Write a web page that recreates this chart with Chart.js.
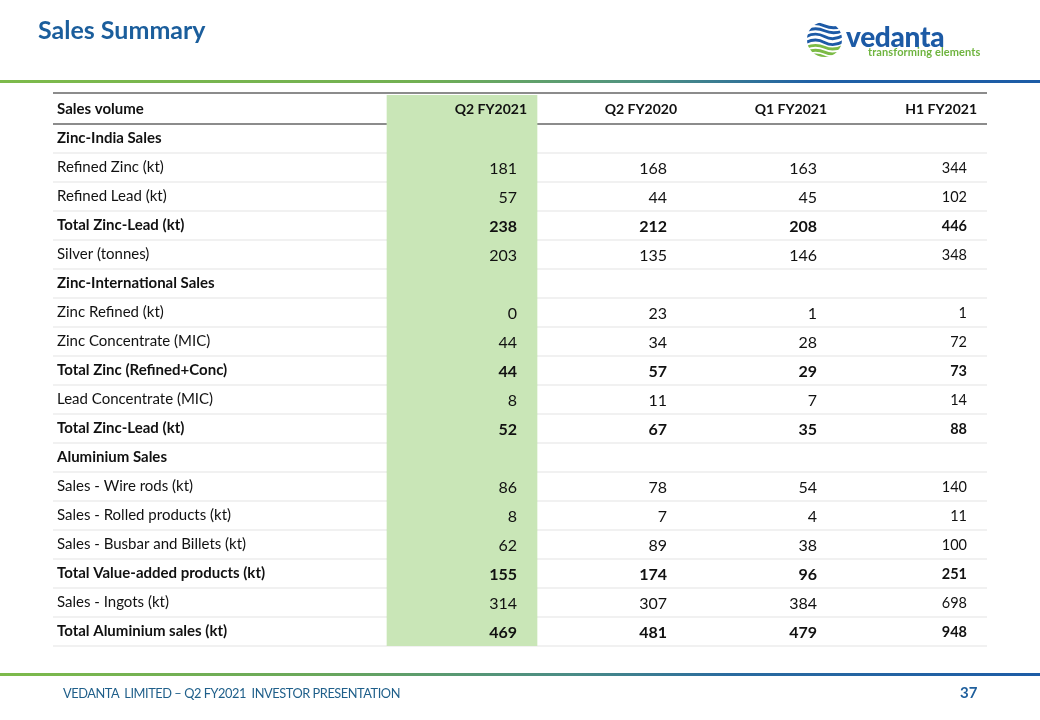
<!DOCTYPE html>
<html>
<head>
<meta charset="utf-8">
<script src="https://cdn.jsdelivr.net/npm/chart.js@4.4.0/dist/chart.umd.min.js"></script>
<style>
  body { margin: 0; background: #fff; font-family: Lato, "Open Sans", sans-serif; }
  #page { position: relative; width: 1040px; height: 720px; overflow: hidden; }
  #table-chart { position: absolute; left: 0; top: 0; }
  .title { position: absolute; left: 38px; top: 17px; line-height: 1; font-size: 25px; font-weight: bold; color: #1b5e9c; }
  .topline { position: absolute; left: 0; top: 80px; width: 1040px; height: 3px;
    background: linear-gradient(to right, #7dba4b 0%, #72b052 40%, #4f9282 62%, #1f60a6 78%, #1d5ca6 100%); }
  .bottomline { position: absolute; left: 0; top: 673px; width: 1040px; height: 3px;
    background: linear-gradient(to right, #7dba4b 0%, #6aa85a 30%, #4a8c86 55%, #2a6b9f 70%, #1d5ca6 100%); }
  .brand { position: absolute; left: 846px; top: 22px; line-height: 1; font-size: 28px; font-weight: 900; color: #1c5aa5; letter-spacing: -0.3px; }
  .tagline { position: absolute; left: 868px; top: 46px; line-height: 1; font-size: 11px; font-weight: bold; color: #6fb43f; letter-spacing: 0.1px; }
  .logo { position: absolute; left: 806px; top: 21px; }
  .footer { position: absolute; left: 63px; top: 687px; line-height: 1; font-size: 12.8px; letter-spacing: -0.45px; color: #1f5f8a; white-space: pre; }
  .pageno { position: absolute; left: 960px; top: 685px; line-height: 1; font-size: 15px; font-weight: bold; color: #1f5f9c; }
</style>
</head>
<body>
<div id="page">
  <canvas id="table-chart" width="1040" height="720"></canvas>
  <div class="title">Sales Summary</div>
  <svg class="logo" width="37" height="37" viewBox="0 0 38 38">
    <defs><clipPath id="c"><circle cx="19" cy="19" r="18"/></clipPath></defs>
    <g clip-path="url(#c)" fill="none" stroke-width="3">
      <path d="M0 4 Q10 1 19 5 T38 5" stroke="#1d5aa6"/>
      <path d="M0 10 Q10 6 19 10 T38 10" stroke="#1d5aa6"/>
      <path d="M0 16 Q10 11 19 16 T38 15" stroke="#1d5aa6"/>
      <path d="M0 22 Q10 17 19 22 T38 21" stroke="#1d5aa6"/>
      <path d="M0 27 Q10 23 19 27 T38 26" stroke="#7cbb46"/>
      <path d="M0 32 Q10 28 19 32 T38 31" stroke="#7cbb46"/>
      <path d="M0 37 Q10 33 19 37 T38 36" stroke="#7cbb46"/>
    </g>
  </svg>
  <div class="brand">vedanta</div>
  <div class="tagline">transforming elements</div>
  <div class="topline"></div>
  <div class="bottomline"></div>
  <div class="footer">VEDANTA  LIMITED – Q2 FY2021  INVESTOR PRESENTATION</div>
  <div class="pageno">37</div>
</div>
<script>
/* Table contents */
let headerLabel = 'Sales volume'
let columnLabels = ['Q2 FY2021', 'Q2 FY2020', 'Q1 FY2021', 'H1 FY2021']

let rowLabels = [
  'Zinc-India Sales',
  'Refined Zinc (kt)',
  'Refined Lead (kt)',
  'Total Zinc-Lead (kt)',
  'Silver (tonnes)',
  'Zinc-International Sales',
  'Zinc Refined (kt)',
  'Zinc Concentrate (MIC)',
  'Total Zinc (Refined+Conc)',
  'Lead Concentrate (MIC)',
  'Total Zinc-Lead (kt)',
  'Aluminium Sales',
  'Sales - Wire rods (kt)',
  'Sales - Rolled products (kt)',
  'Sales - Busbar and Billets (kt)',
  'Total Value-added products (kt)',
  'Sales - Ingots (kt)',
  'Total Aluminium sales (kt)'
]

// rows shown in bold (section titles and totals)
let boldRows = [0, 3, 5, 8, 10, 11, 15, 17]

let q2fy2021 = [null, 181, 57, 238, 203, null, 0, 44, 44, 8, 52, null, 86, 8, 62, 155, 314, 469]
let q2fy2020 = [null, 168, 44, 212, 135, null, 23, 34, 57, 11, 67, null, 78, 7, 89, 174, 307, 481]
let q1fy2021 = [null, 163, 45, 208, 146, null, 1, 28, 29, 7, 35, null, 54, 4, 38, 96, 384, 479]
let h1fy2021 = [null, 344, 102, 446, 348, null, 1, 72, 73, 14, 88, null, 140, 11, 100, 251, 698, 948]

let valueColumns = [q2fy2021, q2fy2020, q1fy2021, h1fy2021]

let fontFamily = 'Lato, "Open Sans", sans-serif'

/* Plugin that draws the grid lines and cell texts through the chart scales */
let tablePlugin = {
  id: 'tableCells',
  beforeDatasetsDraw(chart) {
    let c = chart.ctx
    let x = chart.scales.x
    let y = chart.scales.y
    let rowH = y.getPixelForValue(1) - y.getPixelForValue(0)
    let left = x.getPixelForValue(x.min)
    let right = x.getPixelForValue(x.max)
    c.save()
    for (let i = 1; i <= rowLabels.length + 1; i++) {
      let yy = Math.round(y.getPixelForValue(i) - rowH / 2)
      if (i == 1) {
        c.strokeStyle = '#8c8c8c'
        c.lineWidth = 2
      } else {
        c.strokeStyle = '#ececec'
        c.lineWidth = 1.5
      }
      c.beginPath()
      c.moveTo(left, yy)
      c.lineTo(right, yy)
      c.stroke()
    }
    c.restore()
  },
  afterDatasetsDraw(chart) {
    let c = chart.ctx
    let x = chart.scales.x
    let y = chart.scales.y
    let rowH = y.getPixelForValue(1) - y.getPixelForValue(0)
    let left = x.getPixelForValue(x.min)
    let right = x.getPixelForValue(x.max)
    c.save()

    // top border of the table
    let top = Math.round(y.getPixelForValue(0) - rowH / 2) - 2
    c.strokeStyle = '#8c8c8c'
    c.lineWidth = 2
    c.beginPath()
    c.moveTo(left, top)
    c.lineTo(right, top)
    c.stroke()

    c.fillStyle = '#111'
    c.textBaseline = 'middle'

    // header row
    let hy = y.getPixelForValue(0)
    c.font = 'bold 15px ' + fontFamily
    c.textAlign = 'left'
    c.fillText(headerLabel, left + 4, hy)
    c.font = 'bold 14px ' + fontFamily
    c.textAlign = 'right'
    columnLabels.forEach(function (label, col) {
      c.fillText(label, x.getPixelForValue(col + 1) - 10, hy)
    })

    // body rows
    rowLabels.forEach(function (label, i) {
      let ry = y.getPixelForValue(i + 1)
      let bold = boldRows.includes(i) ? 'bold ' : ''
      c.textAlign = 'left'
      c.font = bold + '15px ' + fontFamily
      c.fillText(label, left + 4, ry)
      c.textAlign = 'right'
      valueColumns.forEach(function (values, col) {
        let v = values[i]
        if (v === null) return
        let size = col == 3 ? '14.5px ' : '16px '
        c.font = bold + size + fontFamily
        c.fillText(String(v), x.getPixelForValue(col + 1) - 20, ry + 1)
      })
    })
    c.restore()
  }
}

let ctx = document.querySelector('#table-chart').getContext('2d')

// highlighted Q2 FY2021 column, one floating bar per row (header included)
let highlight = [headerLabel].concat(rowLabels).map(function () { return [0, 1] })

let salesTable = new Chart(ctx, {
  type: 'bar',
  data: {
    labels: [headerLabel].concat(rowLabels),
    datasets: [{
      data: highlight,
      backgroundColor: '#c9e6b7',
      borderWidth: 0,
      barPercentage: 1,
      categoryPercentage: 1
    }]
  },
  options: {
    indexAxis: 'y',
    responsive: false,
    animation: false,
    layout: { padding: { left: 53, right: 53, top: 95, bottom: 74 } },
    scales: {
      x: { type: 'linear', min: -2.2267, max: 4, display: false },
      y: { type: 'category', display: false }
    },
    plugins: {
      legend: { display: false },
      tooltip: { enabled: false }
    }
  },
  plugins: [tablePlugin]
})
</script>
</body>
</html>
